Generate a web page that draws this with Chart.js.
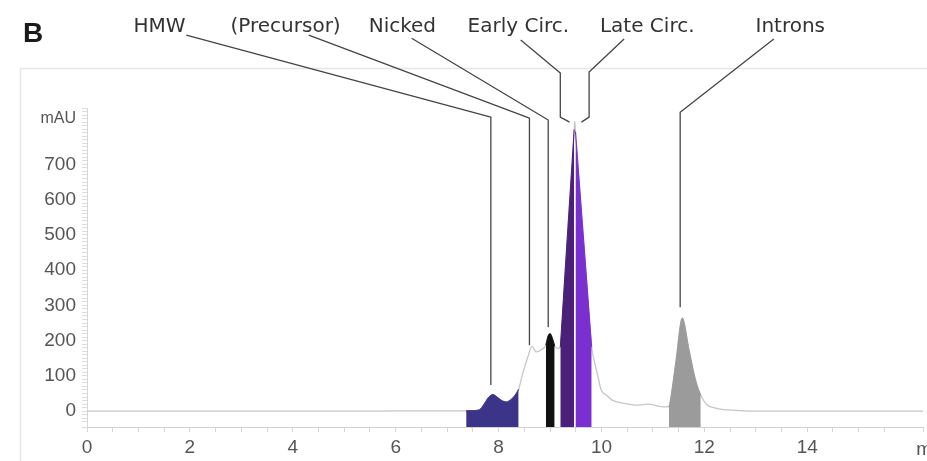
<!DOCTYPE html>
<html><head><meta charset="utf-8">
<script src="https://cdn.jsdelivr.net/npm/chart.js@4.4.1/dist/chart.umd.min.js"></script>
<style>html,body{margin:0;padding:0;background:#fff;}#wrap{width:927px;height:461px;position:relative;}canvas{display:block;}</style>
</head><body><div id="wrap"><canvas id="c" width="927" height="461"></canvas></div>
<script>
// Chromatogram trace (retention time in min, absorbance in mAU)
const times = [0,1,2,3,4,5,6,6.8,7.37,7.5,7.63,7.72,7.8,7.89,7.97,8.06,8.15,8.25,8.32,8.39,8.47,8.57,8.65,8.73,8.83,8.92,8.96,9.0,9.05,9.09,9.15,9.2,9.3,9.4,9.47,9.48,9.495,9.6,9.7,9.81,9.87,9.93,9.99,10.1,10.2,10.44,10.7,10.89,10.97,11.1,11.21,11.31,11.33,11.45,11.57,11.7,11.8,11.86,11.93,12.05,12.2,12.37,12.76,13.5,16.25];
const absorbance = [0,0,0,0,0,0,0.5,1,1,1.5,4,20,38,47,40,30,26,34,45,62,107,154,184,168,174,188,212,220,205,185,178,182,411,639,799,822,793,589,395,182,136,100,62,45,32,22,17,20,19,14,12,13,22,143,264,175,105,72,45,18,9,4,1,0,0];
// Shaded fractions
const regionNames = ['HMW','Nicked','Early Circ.','Late Circ.','Introns'];
const regionStart = [7.37,8.92,9.2,9.495,11.31];
const regionEnd   = [8.39,9.09,9.47,9.81,11.93];
// Annotation texts
const peakLabels = ['HMW','(Precursor)','Nicked','Early Circ.','Late Circ.','Introns'];
// Axis tick labels
const xTickLabels = ['0','2','4','6','8','10','12','14'];
const yTickLabels = ['0','100','200','300','400','500','600','700'];
const yUnitLabel = 'mAU';
const xUnitLabel = 'min';

const regionColors = ['#3b3489','#111111','#4a2079','#7a2fd0','#9b9b9b'];

const tracePts = times.map((t,i)=>({x:t,y:absorbance[i]}));
const regionSets = regionNames.map((name,k)=>({
  label:name,
  data: tracePts.filter(p=>p.x>=regionStart[k]-1e-9 && p.x<=regionEnd[k]+1e-9),
  backgroundColor: regionColors[k],
  borderColor: regionColors[k],
  borderWidth: 1,
  pointRadius: 0,
  fill: 'start',
  cubicInterpolationMode: 'monotone',
  order: 0
}));

const tickFamily = '"Liberation Sans", Arial, sans-serif';

const decor = {
  id:'figureDecor',
  beforeDraw(chart){
    const ctx = chart.ctx;
    ctx.save();
    ctx.strokeStyle = '#e6e6e6';
    ctx.lineWidth = 1.5;
    ctx.beginPath();
    ctx.moveTo(20.5, chart.height); ctx.lineTo(20.5, 68.5); ctx.lineTo(chart.width, 68.5);
    ctx.stroke();
    ctx.fillStyle = '#1a1a1a';
    ctx.font = 'bold 28px "Liberation Sans", Arial, sans-serif';
    ctx.textAlign = 'left'; ctx.textBaseline = 'alphabetic';
    ctx.fillText('B', 23, 42);
    ctx.restore();
  },
  afterDraw(chart, args, opts){
    const ctx = chart.ctx, xs = chart.scales.x, ys = chart.scales.y;
    ctx.save();
    ctx.strokeStyle = '#454545';
    ctx.lineWidth = 1.3;
    ctx.lineJoin = 'round';
    opts.leaders.forEach(ld=>{
      ctx.beginPath();
      ld.path.forEach((p,i)=>{
        const px = xs.getPixelForValue(p[0]), py = ys.getPixelForValue(p[1]);
        if(i===0) ctx.moveTo(px,py); else ctx.lineTo(px,py);
      });
      ctx.stroke();
      ctx.fillStyle = '#333';
      ctx.font = '20px "DejaVu Sans", Verdana, sans-serif';
      ctx.textAlign = 'center'; ctx.textBaseline = 'alphabetic';
      ctx.fillText(peakLabels[ld.text], xs.getPixelForValue(ld.at[0]), ys.getPixelForValue(ld.at[1]));
    });
    // axis unit label at the end of the time axis
    ctx.fillStyle = '#555';
    ctx.font = '19px ' + tickFamily;
    ctx.textAlign = 'left'; ctx.textBaseline = 'middle';
    ctx.fillText(xUnitLabel, xs.getPixelForValue(opts.unitAt), xs.top + 23);
    ctx.restore();
  }
};

new Chart(document.getElementById('c'), {
  type:'line',
  data:{datasets:[
    {label:'trace', data:tracePts, borderColor:'#c6c6c6', borderWidth:1.3, pointRadius:0, fill:false, cubicInterpolationMode:'monotone', order:10},
    ...regionSets
  ]},
  options:{
    responsive:false, animation:false, devicePixelRatio:1,
    layout:{padding:{top:108,right:0,left:0,bottom:0}},
    plugins:{
      legend:{display:false}, tooltip:{enabled:false},
      figureDecor:{
        unitAt:16.12,
        leaders:[
          {text:0, at:[1.41,1075], path:[[1.93,1067],[7.85,834],[7.85,74]]},
          {text:1, at:[3.86,1075], path:[[4.31,1067],[8.60,831],[8.60,187]]},
          {text:2, at:[6.13,1075], path:[[6.31,1058],[8.965,826],[8.965,238]]},
          {text:3, at:[8.385,1075], path:[[8.43,1053],[9.2,959],[9.2,834],[9.38,820]]},
          {text:4, at:[10.89,1075], path:[[10.44,1056],[9.76,962],[9.76,834],[9.61,820]]},
          {text:5, at:[13.67,1075], path:[[13.35,1056],[11.53,848],[11.53,295]]}
        ]
      }
    },
    scales:{
      x:{type:'linear', min:0, max:16.25,
        afterFit(s){ s.height = 34; },
        border:{color:'#d2d2d2', width:1},
        grid:{drawOnChartArea:false, tickLength:5, color:'#d6d6d6'},
        ticks:{stepSize:0.5, autoSkip:false, maxRotation:0, padding:4, color:'#555', font:{family:tickFamily, size:19},
          callback:(v)=>{ const i = Math.round(v*2); return (i%4===0 && v<=14.001) ? xTickLabels[i/4] : ''; }}
      },
      y:{type:'linear', min:-45, max:860,
        afterFit(s){ s.width = 87; },
        border:{color:'#d6d6d6', width:1},
        grid:{drawOnChartArea:false, tickLength:5, color:'#dcdcdc'},
        ticks:{stepSize:10, autoSkip:false, padding:6, color:'#555',
          font:(c)=> (c.tick && Math.abs(c.tick.value-830)<1e-6) ? {family:tickFamily, size:16} : {family:tickFamily, size:19},
          callback:(v)=>{ if(Math.abs(v-830)<1e-6) return yUnitLabel; const r = Math.round(v); if(r%100===0 && r>=0 && r<=700) return yTickLabels[r/100]; return ''; }}
      }
    }
  },
  plugins:[decor]
});
</script></body></html>
